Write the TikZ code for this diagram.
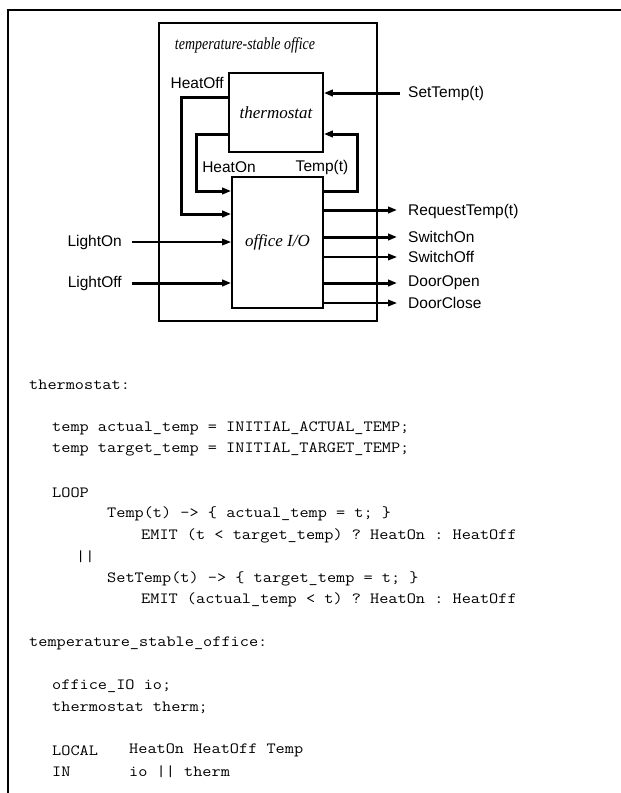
\documentclass[tikz,border=0pt]{standalone}
\usepackage{fontspec}
\setmainfont{Liberation Serif}
\setsansfont{Liberation Sans}
\setmonofont[FakeStretch=1.14]{Latin Modern Mono}
\newfontfamily\titlefont[FakeStretch=0.82]{Liberation Serif Italic}
\usetikzlibrary{arrows.meta}
\begin{document}
\begin{tikzpicture}[x=1pt,y=-1pt,
  box/.style={draw, line width=1.8pt, inner sep=0pt},
  thk/.style={line width=3pt},
  thn/.style={line width=1.8pt},
  arr/.style={-{Triangle[length=9pt,width=6.5pt]}},
  lbl/.style={font=\fontsize{15.5}{18}\selectfont\sffamily, inner sep=0pt},
  ital/.style={font=\fontsize{17}{20}\selectfont\itshape},
  code/.style={font=\fontsize{15.6}{18}\selectfont\ttfamily, inner sep=0pt, anchor=west}]
\useasboundingbox (0,0) rectangle (621,793);
% outer frame
\draw[line width=2.7pt] (8,793) -- (8,10) -- (621,10);
% composite box
\node[draw, line width=2.7pt, minimum width=218pt, minimum height=298pt, inner sep=0pt] (tso) at (268,172) {};
\node[font=\fontsize{17}{20}\selectfont\titlefont, inner sep=0pt] (title) at (245,45) {temperature-stable office};
\node[box, ital, minimum width=94pt, minimum height=79pt] (therm) at (276,112.5) {thermostat};
\node[box, ital, minimum width=91pt, minimum height=131pt] (office) at (277.5,242.5) {office I/O};
% internal loops
\coordinate (hoff) at (181,97);
\coordinate (hoffb) at (181,214);
\draw[thk,arr] (therm.west |- hoff) -- (hoff) -- (hoffb) -- (office.west |- hoffb);
\node[lbl, anchor=east] (hoffL) at (224,83) {HeatOff};
\coordinate (hon) at (196,134);
\coordinate (honb) at (196,191);
\draw[thk,arr] (therm.west |- hon) -- (hon) -- (honb) -- (office.west |- honb);
\node[lbl] (honL) at (229,167) {HeatOn};
\coordinate (tmp) at (357,191);
\coordinate (tmpt) at (357,134);
\draw[thk,arr] (office.east |- tmp) -- (tmp) -- (tmpt) -- (therm.east |- tmpt);
\node[lbl] (tmpL) at (322,167) {Temp(t)};
% external input SetTemp
\coordinate (st) at (400,93);
\draw[thk,arr] (st) -- (therm.east |- st);
\node[lbl, anchor=west] (stL) at (408,93) {SetTemp(t)};
% inputs
\coordinate (lon) at (132,242);
\draw[thn,arr] (lon) -- (office.west |- lon);
\node[lbl, anchor=east] (lonL) at (122,242) {LightOn};
\coordinate (loff) at (132,283);
\draw[thk,arr] (loff) -- (office.west |- loff);
\node[lbl, anchor=east] (loffL) at (122,283) {LightOff};
% outputs
\coordinate (req) at (397,210);
\draw[thk,arr] (office.east |- req) -- (req);
\node[lbl, anchor=west] (reqL) at (408,211) {RequestTemp(t)};
\coordinate (son) at (397,237);
\draw[thk,arr] (office.east |- son) -- (son);
\node[lbl, anchor=west] (sonL) at (408,237) {SwitchOn};
\coordinate (soff) at (397,257);
\draw[thn,arr] (office.east |- soff) -- (soff);
\node[lbl, anchor=west] (soffL) at (408,257) {SwitchOff};
\coordinate (dop) at (397,283);
\draw[thk,arr] (office.east |- dop) -- (dop);
\node[lbl, anchor=west] (dopL) at (408,283) {DoorOpen};
\coordinate (dcl) at (397,303);
\draw[thn,arr] (office.east |- dcl) -- (dcl);
\node[lbl, anchor=west] (dclL) at (408,303) {DoorClose};
% code
\node[code] (c0) at (29,385) {thermostat:};
\node[code] (c2) at (52,428) {temp actual\_temp = INITIAL\_ACTUAL\_TEMP;};
\node[code] (c3) at (52,449.5) {temp target\_temp = INITIAL\_TARGET\_TEMP;};
\node[code] (c5) at (52,492.5) {LOOP};
\node[code] (c6) at (107,514) {Temp(t) -> \{ actual\_temp = t; \}};
\node[code] (c7) at (141,535.5) {EMIT (t < target\_temp) ? HeatOn : HeatOff};
\node[code] (c8) at (76,557) {||};
\node[code] (c9) at (107,578.5) {SetTemp(t) -> \{ target\_temp = t; \}};
\node[code] (c10) at (141,600) {EMIT (actual\_temp < t) ? HeatOn : HeatOff};
\node[code] (c12) at (29,643) {temperature\_stable\_office:};
\node[code] (c14) at (52,686) {office\_IO io;};
\node[code] (c15) at (52,707.5) {thermostat therm;};
\node[code] (c17) at (52,750.5) {LOCAL};
\node[code] (c17b) at (129,750.5) {HeatOn HeatOff Temp};
\node[code] (c18) at (52,772) {IN};
\node[code] (c18b) at (129,772) {io || therm};
\end{tikzpicture}
\end{document}
